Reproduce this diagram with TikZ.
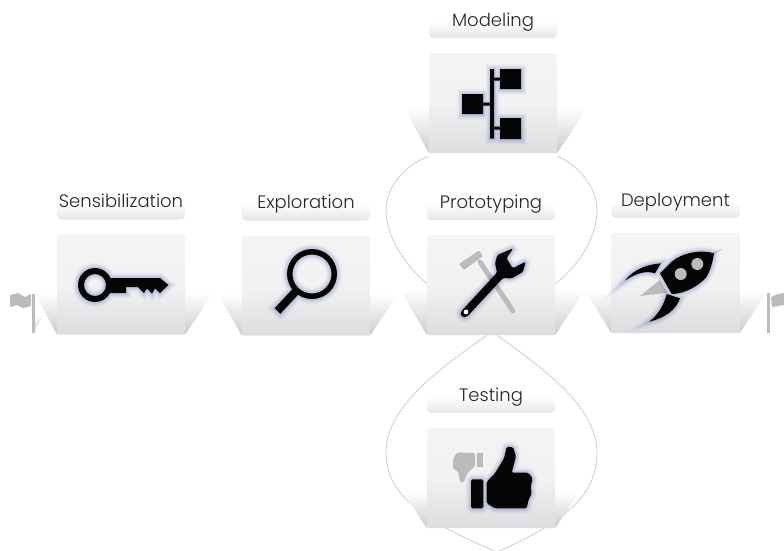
\documentclass[tikz,border=0pt]{standalone}
\usepackage{fontspec}
\setmainfont{Poppins}[UprightFont=* Light]
\usetikzlibrary{backgrounds}
\definecolor{cardtop}{HTML}{F4F4F5}
\definecolor{cardbottom}{HTML}{DCDDDF}
\definecolor{labelbottom}{HTML}{E6E6E7}
\definecolor{flapgray}{HTML}{CBCCCF}
\definecolor{looplinecolor}{HTML}{CDCDCD}
\definecolor{iconblack}{HTML}{050505}
\definecolor{icongray}{HTML}{BBBBBD}
\definecolor{glowblue}{HTML}{4A5AA8}
\tikzset{
  stagecard/.style={rectangle, rounded corners=1.5pt, minimum width=128pt, minimum height=100pt, inner sep=0pt, top color=cardtop, bottom color=cardbottom, middle color=cardtop!90!cardbottom},
  stagelabel/.style={rectangle, rounded corners=4pt, minimum width=128pt, minimum height=33pt, inner sep=0pt, top color=white, bottom color=labelbottom, middle color=white, text=black!85, font=\fontsize{18}{20}\selectfont, text height=13pt, text depth=4pt},
  stageflap/.style={top color=white, bottom color=flapgray},
  loopline/.style={draw=looplinecolor, line width=0.8pt},
  iconglow/.style={line join=round,
    preaction={draw=glowblue, draw opacity=0.03, line width=11pt},
    preaction={draw=glowblue, draw opacity=0.04, line width=9pt},
    preaction={draw=glowblue, draw opacity=0.06, line width=7pt},
    preaction={draw=glowblue, draw opacity=0.08, line width=5pt},
    preaction={draw=glowblue, draw opacity=0.10, line width=3pt}},
  iconfill/.style={fill=iconblack, iconglow},
  greyfill/.style={fill=icongray}
}
\begin{document}
\begin{tikzpicture}[x=1pt, y=-1pt, node distance=81.5pt]
    \useasboundingbox (0,0) rectangle (784,550);

    \node (sensecard) [stagecard] at (121,284.5) {};
    \node (explorecard) [stagecard] at (306,285.5) {};
    \node (modelcard) [stagecard] at (493,103) {};
    \node (protocard) [stagecard] at (491,285) {};
    \node (deploycard) [stagecard] at (675.5,283) {};
    \node (testcard) [stagecard] at (491,478) {};

    \node (senselabel) [stagelabel, above of=sensecard] {Sensibilization};
    \node (explorelabel) [stagelabel, above of=explorecard] {Exploration};
    \node (modellabel) [stagelabel, above of=modelcard] {Modeling};
    \node (protolabel) [stagelabel, above of=protocard] {Prototyping};
    \node (deploylabel) [stagelabel, above of=deploycard] {Deployment};
    \node (testlabel) [stagelabel, above of=testcard] {Testing};

    \coordinate (looptopleft) at ([xshift=-4pt]protocard.south);
    \coordinate (looptopright) at ([xshift=6pt]protocard.south);
    \coordinate (loopbottom) at (497,552);

    \begin{scope}[on background layer]
    \draw[loopline] ([yshift=-3pt]modelcard.south west) .. controls (405,165) and (386,187) .. (386,210) .. controls (386,240) and (410,270) .. ([xshift=2pt]protocard.west);
    \draw[loopline] ([yshift=-3pt]modelcard.south east) .. controls (578,165) and (597,187) .. (597,210) .. controls (597,240) and (575,270) .. ([xshift=-2pt]protocard.east);
    \draw[loopline] (looptopleft) .. controls (430,375) and (386,410) .. (386,453) .. controls (386,495) and (425,522) .. (loopbottom);
    \draw[loopline] (looptopright) .. controls (553,375) and (597,410) .. (597,453) .. controls (597,495) and (565,522) .. (loopbottom);
    \foreach \card/\lx/\rx/\h in {sensecard/-22/28/42, explorecard/-24/28/42, modelcard/-24/30/45, protocard/-27/30/46, deploycard/-26/28/42, testcard/-24/24/36} {
        \shade[stageflap] (\card.south west) -- ++(\lx,-\h) -- ++(-\lx,0) -- cycle;
        \shade[stageflap] (\card.south east) -- ++(\rx,-\h) -- ++(-\rx,0) -- cycle;
    }
    \end{scope}

    % flags
    \shade[stageflap] (33,333) -- (44,315) -- (33,315) -- cycle;
    \fill[greyfill] (31.5,294) -- (34.5,294) -- (34.5,333) -- (31.5,333) -- cycle;
    \fill[greyfill] (10,295) -- (18,293) -- (25,297) -- (31,294) -- (31,306) -- (23,308) -- (17,305) -- (10,307) -- cycle;
    \fill[greyfill] (766.5,293) -- (769.5,293) -- (769.5,333) -- (766.5,333) -- cycle;
    \fill[greyfill] (771,297) -- (778,294) -- (784,293) -- (784,305) -- (772,307) -- cycle;

    % key
    \fill[iconfill, even odd rule] (95,285) circle (17) (95,285) circle (11)
        (110.5,278) -- (160,278) -- (168.5,285) -- (160,293) -- (155,288.5) -- (152,293.5) -- (147,288.5) -- (144,293) -- (138,287) -- (126,287) -- (126,293) -- (110,293) .. controls (112.5,288) and (112.5,282) .. (110.5,278) -- cycle;

    % magnifier
    \fill[iconfill, even odd rule] (312,274) circle (25) (312,274) circle (19.5)
        (298.1,294.7) -- (292.3,289.3) -- (274.6,308.3) -- (280.4,313.7) -- cycle;

    % network
    \fill[iconfill] (490,69) rectangle (494,138.5)
        (500,69) rectangle (521,89)
        (500,118) rectangle (521,139)
        (462,94) rectangle (483,114)
        (494,77.5) rectangle (500,80.5)
        (483,102.5) rectangle (490,105.5)
        (494,126.5) rectangle (500,129.5);

    % hammer and wrench
    \draw[draw=icongray, line width=5pt, line cap=round] (480,262) -- (513,311);
    \fill[greyfill, rounded corners=1pt] (459,264) -- (479,250.5) -- (483,256) -- (464,270) -- cycle;
    \fill[iconfill, rounded corners=1.5pt] (497.1,272.5) -- (495,263.3) -- (497.3,255) -- (513.3,248.3) -- (506.5,258.3) -- (512.7,268.3) -- (525.7,261.7) -- (523,272) -- (511.7,278.5) -- (503,278) -- (468.9,314.7) .. controls (463.5,320) and (458,314.5) .. (463.1,309.3) -- cycle;
    \fill[white] (466,312) circle (2.4);

    % rocket
    \fill[greyfill] (640,296) -- (660,280) -- (667.3,292.7) -- cycle;
    \draw[draw=icongray, line width=0.6pt] (714,253.3) -- (721.7,249.3);
    \fill[iconfill] (714,253.3) .. controls (700,249) and (682,253) .. (671.7,261.7) -- (660,273.3) -- (671.7,294) .. controls (685,294) and (700,285) .. (706.7,276.7) .. controls (711,269) and (713,260) .. (714,253.3) -- cycle
        (625,280.7) .. controls (630,274) and (640,265) .. (661,263.3) -- (655,273.3) .. controls (645,270) and (635,274) .. (625,280.7) -- cycle
        (649,321.7) .. controls (658,315) and (664,305) .. (666.7,294) -- (680,298.3) .. controls (676,310) and (665,318) .. (649,321.7) -- cycle;
    \fill[greyfill] (697.3,264) circle (6);
    \fill[greyfill] (680.7,274) circle (6);

    % thumbs
    \fill[greyfill] (476.7,453.3) rectangle (482.7,466.7);
    \fill[greyfill, rounded corners=1.5pt] (475,453.3) -- (457.3,452.3) -- (453.3,458.3) -- (452.7,468.3) -- (458.3,471.7) -- (460,481.7) -- (463.3,483.3) -- (467.3,473.3) -- (475,466) -- cycle;
    \fill[iconfill, rounded corners=1.5pt] (471,479.3) rectangle (483.3,508.3)
        (486.7,481.7) -- (495,473.3) -- (504,458.3) -- (506.7,446.7) -- (513.3,447.3) -- (516,456.7) -- (511.7,472.7) -- (528.3,472.7) -- (532.7,478.3) -- (530.7,486.7) -- (531.7,493.3) -- (528.3,500.7) -- (526.7,508.3) -- (495,508.3) -- (486.7,503.3) -- cycle;
\end{tikzpicture}
\end{document}
